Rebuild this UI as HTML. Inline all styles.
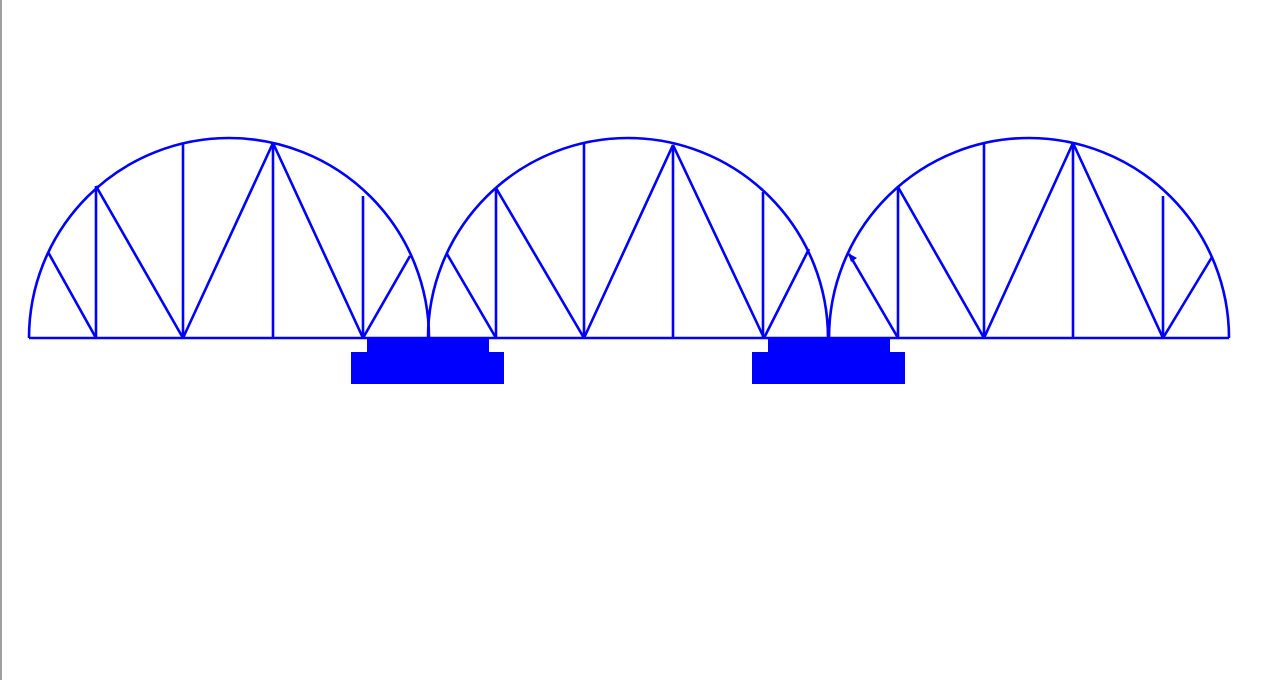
<!DOCTYPE html>
<html>
<head>
<meta charset="utf-8">
<style>
html,body{margin:0;padding:0;background:#fff;width:1261px;height:680px;overflow:hidden;}
#left-border{position:absolute;left:0;top:0;width:2px;height:680px;background:#a0a0a0;}
svg{position:absolute;left:0;top:0;}
</style>
</head>
<body>
<div id="left-border"></div>
<svg id="bridge" width="1261" height="680" xmlns="http://www.w3.org/2000/svg"></svg>
<script>
const deckY = 338;
const archCenters = [229, 628, 1029];
const archRadius = 200;
const verticals = [
  [[96,186],[183,144],[273,143],[363,196]],
  [[496,188],[584,143],[673,145],[763,192]],
  [[898,187],[984,144],[1073,143],[1163,196]]
];
const diagonals = [
  [[48,252,96,338],[96,186,183,338],[183,338,273,143],[273,143,363,338],[363,338,410,256]],
  [[447,254,496,338],[496,188,584,338],[584,338,673,145],[673,145,764,338],[764,338,809,249]],
  [[849,254,898,338],[898,187,984,338],[984,338,1073,143],[1073,143,1163,338],[1163,338,1212,257]]
];
const piers = [[367,338,122,14],[351,352,153,32],[768,338,122,14],[752,352,153,32]];

const NS = 'http://www.w3.org/2000/svg';
const svg = document.getElementById('bridge');
const C = '#0000ff', W = 2.6;
function line(x1,y1,x2,y2,name){
  const l = document.createElementNS(NS,'line');
  l.setAttribute('x1',x1);l.setAttribute('y1',y1);l.setAttribute('x2',x2);l.setAttribute('y2',y2);
  l.setAttribute('stroke',C);l.setAttribute('stroke-width',W);
  
  
  svg.appendChild(l);
}
// deck
line(archCenters[0]-archRadius, deckY, archCenters[2]+archRadius, deckY, 'deck');
archCenters.forEach((cx,i)=>{
  const p = document.createElementNS(NS,'path');
  p.setAttribute('d',`M${cx-archRadius},${deckY} A${archRadius},${archRadius} 0 0 1 ${cx+archRadius},${deckY}`);
  p.setAttribute('fill','none');p.setAttribute('stroke',C);p.setAttribute('stroke-width',W);
  
  
  svg.appendChild(p);
  verticals[i].forEach(v=>line(v[0],v[1],v[0],deckY,'vertical-strut'));
  diagonals[i].forEach(d=>line(d[0],d[1],d[2],d[3],'diagonal-strut'));
});
piers.forEach(r=>{
  const e = document.createElementNS(NS,'rect');
  e.setAttribute('x',r[0]);e.setAttribute('y',r[1]);e.setAttribute('width',r[2]);e.setAttribute('height',r[3]);
  e.setAttribute('fill',C);
  
  
  svg.appendChild(e);
});
// small arrowhead
const a = document.createElementNS(NS,'polygon');
a.setAttribute('points','848,253 857,258 851,262');
a.setAttribute('fill',C);


svg.appendChild(a);
</script>
</body>
</html>
